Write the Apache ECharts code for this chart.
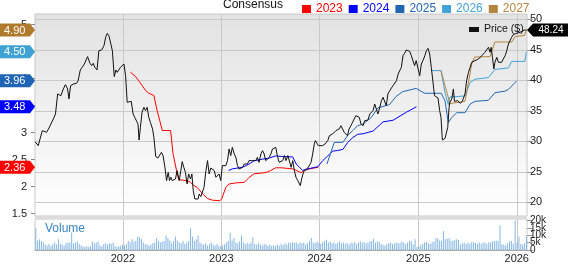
<!DOCTYPE html>
<html><head><meta charset="utf-8">
<script src="https://cdn.jsdelivr.net/npm/echarts@6/dist/echarts.min.js"></script>
<style>html,body{margin:0;padding:0;background:#fff}#c{width:568px;height:264px}</style>
</head><body><div id="c"></div>
<script>
// ---- data ----
const price = [
['2021-02-09',29.94],['2021-02-21',29.29],['2021-02-27',29.56],['2021-03-08',31.74],['2021-03-15',32.02],['2021-03-24',31.47],['2021-04-02',32.18],['2021-04-09',32.84],['2021-04-18',33.66],['2021-04-26',34.48],['2021-05-04',37.76],['2021-05-11',38.03],['2021-05-16',37.48],['2021-05-25',38.58],['2021-06-02',39.29],['2021-06-10',38.58],['2021-06-15',36.94],['2021-06-21',39.12],['2021-07-01',39.39],['2021-07-13',39.50],['2021-07-19',39.94],['2021-07-27',41.69],['2021-08-03',42.13],['2021-08-11',42.67],['2021-08-16',42.40],['2021-08-23',43.88],['2021-09-01',42.78],['2021-09-07',42.40],['2021-09-13',42.78],['2021-09-19',42.13],['2021-09-27',41.69],['2021-10-04',44.86],['2021-10-14',44.97],['2021-10-23',45.68],['2021-10-29',47.04],['2021-11-04',47.70],['2021-11-10',47.32],['2021-11-18',45.84],['2021-11-23',44.86],['2021-11-30',40.60],['2021-12-06',41.69],
['2021-12-11',41.31],['2021-12-17',41.58],['2021-12-23',42.13],['2021-12-29',41.96],['2022-01-05',42.67],['2022-01-11',40.76],['2022-01-17',36.39],['2022-01-23',36.12],['2022-02-01',36.55],['2022-02-08',34.48],['2022-02-14',33.93],['2022-02-21',34.20],['2022-02-26',32.84],['2022-03-02',30.21],['2022-03-07',32.29],['2022-03-13',34.75],['2022-03-20',35.57],['2022-03-26',35.02],['2022-04-01',35.57],['2022-04-07',33.93],['2022-04-13',33.11],['2022-04-21',32.02],['2022-04-26',30.65],['2022-05-03',27.48],['2022-05-11',27.26],['2022-05-18',27.37],['2022-05-24',28.19],['2022-05-30',27.65],['2022-06-06',25.73],['2022-06-12',23.55],['2022-06-18',24.91],['2022-06-23',23.55],['2022-06-28',24.10],['2022-07-03',23.55],['2022-07-09',23.55],['2022-07-15',23.82],['2022-07-21',25.19],['2022-07-29',23.55],['2022-08-04',25.19],['2022-08-09',26.66],['2022-08-15',25.73],['2022-08-21',24.91],['2022-08-27',23.00],['2022-09-02',24.64],['2022-09-09',23.82],['2022-09-14',24.64],['2022-09-19',21.91],['2022-09-25',20.54],['2022-10-01',20.38],['2022-10-07',20.54],
['2022-10-11',21.36],['2022-10-17',20.92],['2022-10-23',20.82],['2022-10-29',22.46],['2022-11-05',25.19],['2022-11-11',26.83],['2022-11-17',24.64],['2022-11-23',25.62],['2022-11-29',25.73],['2022-12-06',25.19],['2022-12-12',24.10],['2022-12-18',23.82],['2022-12-24',24.64],['2022-12-30',23.55],['2023-01-05',26.01],['2023-01-12',26.28],['2023-01-18',26.01],['2023-01-24',26.83],['2023-01-30',28.74],['2023-02-05',27.65],['2023-02-11',29.01],['2023-02-18',27.92],['2023-02-24',27.37],['2023-03-02',26.01],['2023-03-08',25.46],['2023-03-15',25.19],['2023-03-21',25.73],['2023-03-27',26.28],['2023-04-02',26.01],['2023-04-08',26.28],['2023-04-14',26.83],['2023-04-21',26.55],['2023-04-27',26.83],['2023-05-03',26.55],['2023-05-09',26.83],['2023-05-15',27.37],['2023-05-21',26.55],['2023-05-28',27.92],['2023-06-03',28.47],['2023-06-09',27.92],['2023-06-15',26.83],['2023-06-21',26.55],['2023-06-28',27.37],['2023-07-04',27.92],['2023-07-10',28.74],['2023-07-16',29.01],['2023-07-22',29.01],['2023-07-29',27.37],['2023-08-04',26.55],['2023-08-11',26.28],
['2023-08-17',26.83],['2023-08-23',27.65],['2023-08-29',26.83],['2023-09-05',27.65],['2023-09-11',27.37],['2023-09-17',25.73],['2023-09-23',26.83],['2023-09-29',25.19],['2023-10-05',24.10],['2023-10-12',23.55],['2023-10-18',23.27],['2023-10-21',22.73],['2023-10-26',23.82],['2023-10-31',24.64],['2023-11-05',25.19],['2023-11-11',25.46],['2023-11-18',25.62],['2023-11-24',25.84],['2023-11-30',26.55],['2023-12-06',27.92],['2023-12-12',29.56],['2023-12-16',30.11],['2023-12-22',29.83],['2023-12-27',29.29],['2024-01-03',29.01],['2024-01-12',29.29],['2024-01-21',29.56],['2024-01-31',30.11],['2024-02-06',30.92],['2024-02-12',30.65],['2024-02-18',31.20],['2024-02-24',31.47],['2024-03-01',31.74],['2024-03-07',31.47],['2024-03-13',32.02],['2024-03-20',32.56],['2024-03-26',32.84],['2024-04-01',31.47],['2024-04-07',31.20],['2024-04-13',30.92],['2024-04-19',32.02],['2024-04-26',32.56],['2024-05-02',33.11],['2024-05-08',33.38],['2024-05-14',34.20],['2024-05-20',34.20],['2024-05-27',33.93],['2024-06-02',32.84],['2024-06-10',32.56],
['2024-06-16',33.38],['2024-06-22',33.66],['2024-06-28',33.49],['2024-07-05',34.48],['2024-07-11',34.20],['2024-07-17',35.02],['2024-07-23',36.12],['2024-07-29',35.30],['2024-08-04',34.48],['2024-08-11',35.57],['2024-08-17',36.66],['2024-08-23',37.21],['2024-08-29',37.48],['2024-09-04',35.84],['2024-09-10',37.76],['2024-09-17',38.30],['2024-09-23',38.74],['2024-09-29',39.12],['2024-10-05',39.39],['2024-10-12',39.94],['2024-10-18',41.03],['2024-10-24',41.31],['2024-10-30',42.13],['2024-11-05',44.04],['2024-11-11',44.42],['2024-11-17',44.97],['2024-11-24',45.24],['2024-11-30',44.75],['2024-12-06',44.04],['2024-12-12',43.77],['2024-12-18',42.40],['2024-12-24',43.22],['2024-12-31',43.49],['2025-01-06',40.76],['2025-01-12',42.67],['2025-01-19',43.33],['2025-01-25',44.04],['2025-01-31',44.86],['2025-02-06',45.24],['2025-02-12',44.31],['2025-02-18',42.13],['2025-02-24',41.85],['2025-03-02',37.48],['2025-03-09',37.32],['2025-03-15',37.10],['2025-03-21',35.02],['2025-03-26',33.93],['2025-03-31',30.21],['2025-04-06',30.38],['2025-04-10',30.49],
['2025-04-16',30.65],['2025-04-20',32.29],['2025-04-25',35.57],['2025-04-28',36.39],['2025-05-05',36.94],['2025-05-11',38.58],['2025-05-15',36.55],['2025-05-20',36.39],['2025-05-27',36.66],['2025-06-05',36.23],['2025-06-13',36.55],['2025-06-18',36.39],['2025-06-23',37.76],['2025-06-29',39.94],['2025-07-06',41.31],['2025-07-12',42.13],['2025-07-18',42.95],['2025-07-24',42.78],['2025-07-30',43.22],['2025-08-05',43.22],['2025-08-12',43.49],['2025-08-18',43.77],['2025-08-24',44.04],['2025-08-30',43.77],['2025-09-05',44.59],['2025-09-12',44.86],['2025-09-18',45.41],['2025-09-24',44.59],['2025-09-28',45.41],['2025-10-03',43.77],['2025-10-08',41.85],['2025-10-12',42.95],['2025-10-19',43.77],['2025-10-25',42.95],['2025-10-31',43.22],['2025-11-06',42.95],['2025-11-12',43.49],['2025-11-19',44.04],['2025-11-25',44.86],['2025-12-01',45.95],['2025-12-07',46.23],['2025-12-13',47.04],['2025-12-19',47.48],['2025-12-26',47.59],['2026-01-01',47.70],['2026-01-07',47.86],['2026-01-13',47.86],['2026-01-19',48.14],['2026-01-29',48.24],['2026-02-06',48.24]
];
const est2023 = [['2022-01-29',4.12],['2022-02-17',4.04],['2022-03-01',3.96],['2022-03-14',3.87],['2022-03-26',3.78],['2022-04-07',3.73],['2022-04-26',3.69],['2022-05-08',3.41],['2022-05-21',3.16],['2022-05-27',3.04],['2022-06-27',3.04],['2022-07-06',2.61],['2022-07-19',2.30],['2022-07-27',2.13],['2022-08-27',2.11],['2022-09-09',2.08],['2022-09-21',2.02],['2022-10-03',1.99],['2022-10-18',1.90],['2022-10-29',1.84],['2022-11-11',1.78],['2022-11-29',1.75],['2022-12-27',1.74],['2023-01-03',1.78],['2023-01-18',1.99],['2023-01-30',2.05],['2023-02-24',2.07],['2023-03-27',2.08],['2023-04-14',2.17],['2023-05-03',2.24],['2023-05-28',2.25],['2023-06-21',2.27],['2023-07-04',2.30],['2023-07-22',2.35],['2023-08-11',2.35],['2023-09-23',2.33],['2023-10-24',2.26],['2023-11-05',2.30],['2023-11-24',2.33],['2023-12-27',2.36]];
const est2024 = [['2023-01-28',2.30],['2023-02-11',2.33],['2023-03-08',2.35],['2023-03-21',2.36],['2023-04-14',2.42],['2023-05-03',2.48],['2023-06-03',2.51],['2023-06-28',2.53],['2023-07-22',2.57],['2023-08-11',2.56],['2023-09-23',2.55],['2023-10-06',2.42],['2023-10-30',2.30],['2023-11-18',2.33],['2023-12-25',2.37],['2024-01-12',2.48],['2024-01-31',2.57],['2024-02-19',2.66],['2024-03-08',2.67],['2024-03-27',2.69],['2024-04-14',2.82],['2024-05-03',2.91],['2024-05-21',2.97],['2024-06-10',2.98],['2024-07-17',3.03],['2024-08-23',3.20],['2024-09-29',3.23],['2024-11-18',3.38],['2024-12-25',3.48]];
const est2025 = [['2024-01-28',2.42],['2024-02-24',2.82],['2024-03-27',2.82],['2024-04-14',2.95],['2024-05-03',3.04],['2024-05-21',3.13],['2024-06-10',3.16],['2024-07-10',3.28],['2024-08-04',3.46],['2024-09-16',3.52],['2024-10-10',3.67],['2024-11-04',3.76],['2024-12-24',3.82],['2025-01-24',3.73],['2025-03-27',3.73],['2025-04-10',3.59],['2025-04-22',3.19],['2025-05-05',3.28],['2025-05-23',3.37],['2025-06-23',3.37],['2025-07-12',3.53],['2025-07-30',3.58],['2025-09-18',3.60],['2025-10-12',3.74],['2025-11-18',3.77],['2025-12-01',3.80],['2026-01-01',3.96]];
const est2026 = [['2025-02-17',4.15],['2025-03-26',4.15],['2025-04-10',3.74],['2025-04-22',3.52],['2025-04-28',3.66],['2025-05-05',3.68],['2025-06-23',3.68],['2025-07-12',3.93],['2025-07-30',3.99],['2025-09-18',4.02],['2025-10-12',4.17],['2025-12-01',4.20],['2025-12-13',4.32],['2026-01-31',4.32],['2026-02-06',4.50]];
const est2027 = [['2025-03-26',4.15],['2025-04-10',3.87],['2025-04-28',3.54],['2025-06-23',3.58],['2025-07-18',4.27],['2025-07-28',4.40],['2025-09-24',4.41],['2025-10-12',4.68],['2025-12-13',4.68],['2025-12-26',4.78],['2026-01-29',4.80],['2026-02-06',4.90]];
const volStart = '2021-02-12';   // first weekly volume bar (thousands)
const volume = [
14.7,6.5,7.2,6.1,5.1,3.7,3.1,4.1,2.7,4.1,5.1,3.7,7.2,4.1,3.7,3.1,4.5,5.1,5.1,11.9,4.5,5.1,5.7,4.1,3.1,2.5,2.0,2.5,2.0,2.5,
5.7,4.5,5.1,5.7,3.1,2.5,4.1,4.5,3.7,4.5,4.1,5.1,2.5,2.0,2.5,3.1,3.7,3.1,4.1,6.1,5.1,7.2,5.7,6.1,9.2,8.6,7.2,5.1,4.1,3.7,
3.1,3.7,4.5,5.1,8.2,6.1,5.1,5.7,6.1,9.8,8.2,6.5,4.5,6.1,9.2,6.5,5.1,4.5,6.1,4.1,5.1,6.1,14.7,9.2,6.1,7.2,9.8,
5.1,4.1,3.7,4.5,3.1,4.1,5.1,3.7,3.1,4.1,2.9,2.5,3.3,3.7,5.1,6.1,11.7,6.5,8.2,5.1,4.5,5.7,9.8,5.1,4.1,4.9,4.1,5.1,8.6,
4.1,3.5,4.5,3.7,3.1,4.1,3.7,2.9,3.7,2.7,3.3,2.5,3.7,2.9,4.1,3.3,4.5,3.7,5.1,4.5,5.3,4.7,5.3,4.1,5.1,4.5,4.9,3.7,4.5,6.1,
8.2,5.1,4.5,5.7,4.9,4.1,5.3,6.1,7.0,5.1,5.7,4.5,5.3,4.1,4.9,5.7,4.5,5.1,4.1,4.7,3.7,5.1,4.5,5.3,4.1,5.1,5.7,4.9,5.3,4.5,
5.1,5.7,6.1,7.6,5.1,5.7,5.5,4.1,3.5,3.1,4.1,4.5,4.9,4.1,4.5,5.1,4.5,
4.5,5.7,5.1,4.1,4.9,6.1,5.7,3.7,7.2,2.0,2.5,3.3,4.1,5.1,5.5,4.5,4.1,5.3,5.7,8.2,8.0,6.5,6.1,12.7,7.2,7.6,8.2,6.1,6.5,7.0,
7.2,6.7,3.7,4.5,5.1,4.1,4.9,4.1,5.5,5.1,4.7,4.1,5.1,4.1,4.9,5.1,4.1,5.3,5.1,5.7,6.1,6.5,6.1,16.8,4.1,3.5,3.1,4.5,5.7,6.1,
4.1,20.0,5.1,9.2,4.1,3.7,4.5,9.2];
const yearTicks = ['2022-01-01','2023-01-01','2024-01-01','2025-01-01','2026-01-01'];
const priceTicks = [20,25,30,35,40,45,50];
const epsTicks = [1.5,2,2.5,3,3.5,4,4.5,5];
const volTicksA = [0,10,20];   // volume labels, split over two axes so none get hidden
const volTicksB = [5,15];
const seriesNames = ['2023','2024','2025','2026','2027'];
const seriesColors = ['#ff0000','#0000ff','#2166b3','#42a4d6','#b5843e'];
const tagColors = ['#ff0000','#0000ff','#1f64b5','#3ea2d3','#b07a2c'];
const lastEps = [2.36,3.48,3.96,4.50,4.90];
const lastPrice = 48.24;
// ---- chart ----
const ts = s => +new Date(s + 'T00:00:00Z');
const xMin = ts('2021-02-09'), xMax = ts('2026-02-08');
const toXY = arr => arr.map(p => [ts(p[0]), p[1]]);
const estData = [est2023, est2024, est2025, est2026, est2027].map(toXY);
const yearTs = yearTicks.map(ts);
const volData = volume.map((v, i) => [ts(volStart) + i * 7 * 86400000, v]);
const font = 'Arial, "Liberation Sans", sans-serif';

function leftTag(color, val) {
  return {
    type: 'custom', xAxisIndex: 0, yAxisIndex: 0, z: 20, clip: false, silent: true,
    data: [[xMax, val]],
    renderItem: (p, api) => {
      const y = api.coord([api.value(0), api.value(1)])[1];
      return { type: 'group', children: [
        { type: 'polygon', shape: { points: [[0, y - 6.5], [30, y - 6.5], [35, y], [30, y + 6.5], [0, y + 6.5]] }, style: { fill: color } },
        { type: 'text', style: { text: val.toFixed(2), x: 4, y: y + 0.5, verticalAlign: 'middle', fill: '#fff', font: '11px ' + font } }
      ]};
    }
  };
}
const series = [];
estData.forEach((d, i) => series.push({
  name: seriesNames[i], type: 'line', xAxisIndex: 0, yAxisIndex: 0, data: d, symbol: 'none',
  lineStyle: { width: 1, color: seriesColors[i] }, itemStyle: { color: seriesColors[i] }, z: 3
}));
series.push({
  name: 'Price ($)', type: 'line', xAxisIndex: 0, yAxisIndex: 1, data: toXY(price), symbol: 'none',
  lineStyle: { width: 1, color: '#111' }, itemStyle: { color: '#111' }, z: 4
});
series.push({
  name: 'Volume', type: 'bar', xAxisIndex: 1, yAxisIndex: 2, data: volData, barWidth: 1,
  itemStyle: { color: '#86b6e2' }, z: 2
});
lastEps.forEach((v, i) => series.push(leftTag(tagColors[i], v)));
series.push({
  type: 'custom', xAxisIndex: 0, yAxisIndex: 1, z: 20, clip: false, silent: true,
  data: [[xMax, lastPrice]],
  renderItem: (p, api) => {
    const c = api.coord([api.value(0), api.value(1)]);
    const x = c[0], y = c[1];
    return { type: 'group', children: [
      { type: 'polygon', shape: { points: [[x, y], [x + 6, y - 6.5], [568, y - 6.5], [568, y + 6.5], [x + 6, y + 6.5]] }, style: { fill: '#000' } },
      { type: 'text', style: { text: lastPrice.toFixed(2), x: x + 24, y: y + 0.5, align: 'center', verticalAlign: 'middle', fill: '#fff', font: '10px ' + font } }
    ]};
  }
});

const volAxis = ticks => ({
  type: 'value', gridIndex: 1, position: 'right', min: 0, max: 21, axisLine: { show: false },
  axisTick: { show: true, length: 6, customValues: ticks, lineStyle: { color: '#999' } },
  axisLabel: { customValues: ticks, fontSize: 10, color: '#222', margin: 3, showMinLabel: true, showMaxLabel: true,
    formatter: v => v ? v + 'k' : '0' },
  splitLine: { show: false }
});

const chart = echarts.init(document.getElementById('c'), null, { renderer: 'canvas' });
chart.setOption({
  animation: false,
  backgroundColor: '#fff',
  textStyle: { fontFamily: font },
  grid: [
    { left: 35, right: 41, top: 14, height: 202, show: true, borderColor: '#c9c9c9', borderWidth: 1,
      backgroundColor: { type: 'linear', x: 0, y: 0, x2: 0, y2: 1, colorStops: [{ offset: 0, color: '#e2e2e2' }, { offset: 1, color: '#ffffff' }] } },
    { left: 35, right: 41, top: 219, bottom: 10.7, show: true, borderColor: '#c9c9c9', borderWidth: 1, backgroundColor: '#fff' }
  ],
  legend: [
    { left: 297, top: -2, itemWidth: 9, itemHeight: 8, itemGap: 6, icon: 'rect', selectedMode: false,
      data: seriesNames.map((n, i) => ({ name: n, textStyle: { color: seriesColors[i] } })),
      textStyle: { fontSize: 12, fontFamily: font } },
    { left: 464, top: 19, itemWidth: 10, itemHeight: 5, icon: 'rect', selectedMode: false,
      data: [{ name: 'Price ($)', itemStyle: { color: '#111' } }], textStyle: { fontSize: 10.5, color: '#111', fontFamily: font } }
  ],
  xAxis: [
    { type: 'value', gridIndex: 0, min: xMin, max: xMax, axisLine: { show: false }, axisTick: { show: false, customValues: yearTs },
      axisLabel: { show: false, customValues: yearTs }, splitLine: { show: true, lineStyle: { color: '#c9c9c9', width: 1 } } },
    { type: 'value', gridIndex: 1, min: xMin, max: xMax, axisLine: { show: true, lineStyle: { color: '#aaa' } },
      axisTick: { show: false, customValues: yearTs },
      axisLabel: { show: true, customValues: yearTs, margin: 3, fontSize: 11, color: '#222', formatter: v => String(new Date(v).getUTCFullYear()) },
      splitLine: { show: true, lineStyle: { color: '#c9c9c9', width: 1 } } }
  ],
  yAxis: [
    { type: 'value', gridIndex: 0, position: 'left', min: 1.457, max: 5.198, axisLine: { show: false },
      axisTick: { show: true, length: 4, customValues: epsTicks, lineStyle: { color: '#888' } },
      axisLabel: { customValues: epsTicks, fontSize: 11, color: '#222', margin: 8, formatter: v => String(v) },
      splitLine: { show: false } },
    { type: 'value', gridIndex: 0, position: 'right', min: 17.75, max: 50.87, axisLine: { show: false },
      axisTick: { show: true, length: 6, customValues: priceTicks, lineStyle: { color: '#999' } },
      axisLabel: { customValues: priceTicks, fontSize: 11, color: '#222', margin: 3 },
      splitLine: { show: true, lineStyle: { color: '#c9c9c9', width: 1 } } },
    volAxis(volTicksA),
    volAxis(volTicksB)
  ],
  graphic: [
    { type: 'text', left: 223, top: -1, z: 10, style: { text: 'Consensus', font: '12px ' + font, fill: '#111' } },
    { type: 'rect', left: 35, top: 216, z: 10, shape: { width: 492, height: 3 }, style: { fill: '#dcdcdc' } },
    { type: 'text', left: 45, top: 223, z: 10, style: { text: 'Volume', font: '12px ' + font, fill: '#3b86c6' } }
  ],
  series
});
</script>
</body></html>
